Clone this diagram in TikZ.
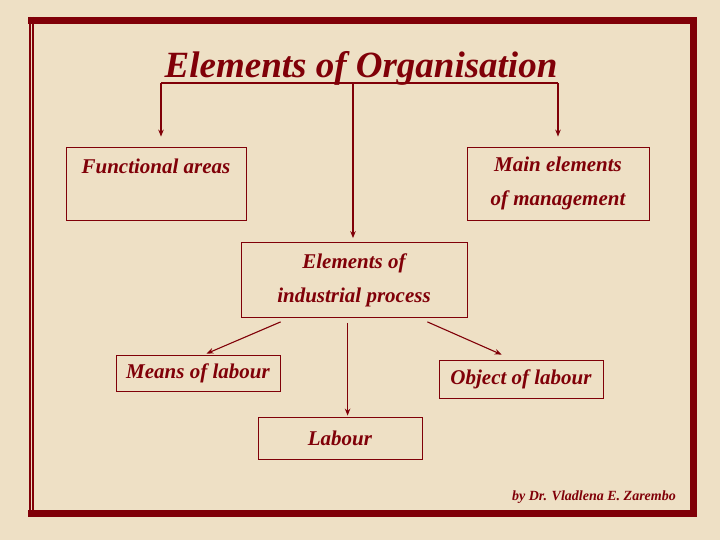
\documentclass[tikz,border=0pt]{standalone}
\usepackage{fontspec}
\setmainfont{Liberation Serif}
\usepackage{tikz}
\usetikzlibrary{arrows.meta}
\definecolor{parch}{RGB}{238,224,197}
\definecolor{wine}{RGB}{128,0,8}
\tikzset{
  elem_txt/.style = {align=center, inner sep=0pt, text centered, wine,
    font=\bfseries\itshape},
  elem_box/.style = {elem_txt, rectangle, draw=wine, line width=0.8pt,
    font=\fontsize{21}{34}\selectfont\bfseries\itshape},% box with label
  title_txt/.style = {elem_txt, font=\fontsize{37}{40}\selectfont\bfseries\itshape},
  foot_txt/.style = {elem_txt, font=\fontsize{14}{15}\selectfont\bfseries\itshape},
  link/.style = {->, draw=wine, line width=1.1pt},% connector
  frame_thick/.style = {draw=wine, line width=7pt, line join=miter},
  frame_thin/.style = {draw=wine, line width=2pt}
}

\begin{document}
\begin{tikzpicture} [x=1pt, y=-1pt, >={Stealth[length=7pt,width=5.5pt]}]
		\fill [parch] (0,0) rectangle (720,540);
		% frame
		\draw [frame_thick] (28,20.5) -- (693.5,20.5) -- (693.5,513) -- (28,513);
		\draw [frame_thin] (29.5,17) -- (29.5,516.5);
		\draw [frame_thin] (33,17) -- (33,516.5);
		% boxes
		\node [title_txt] (title) at (361,68) {Elements of Organisation};
		\node [elem_box, minimum width=180pt, minimum height=73pt] (func) at (156,183.5)
			{Functional areas\\ \mbox{}};
		\node [elem_box, minimum width=182pt, minimum height=73pt] (mgmt) at (558,183.5)
			{Main elements\\of management};
		\node [elem_box, minimum width=226pt, minimum height=75pt] (proc) at (354,280)
			{Elements of\\industrial process};
		\node [elem_box, minimum width=164pt, minimum height=36pt] (means) at (198,373)
			{Means of labour};
		\node [elem_box, minimum width=164pt, minimum height=38pt] (object) at (521,379)
			{Object of labour};
		\node [elem_box, minimum width=164pt, minimum height=42pt] (labour) at (340,438)
			{Labour};
		\node [foot_txt, anchor=base east] (author) at (676,500)
			{by Dr. Vladlena E. Zarembo};
		% branching under the title
		\coordinate (br_l) at (161,83);
		\coordinate (br_m) at (353,83);
		\coordinate (br_r) at (558,83);
		\draw [draw=wine, line width=1.1pt] (br_l) -- (br_r);
		\draw [link] (br_l) -- ([yshift=10pt]br_l |- func.north);
		\draw [link] (br_r) -- ([yshift=10pt]br_r |- mgmt.north);
		\draw [link] (br_m) -- ([yshift=4pt]br_m |- proc.north);
		% elements of industrial process
		\draw [link] ([shift={(40,4)}]proc.south west) -- ([shift={(91,-1)}]means.north west);
		\draw [link] ([shift={(107,5)}]proc.south west) -- ([shift={(90,-1)}]labour.north west);
		\draw [link] ([shift={(-40,4)}]proc.south east) -- ([shift={(63,-5)}]object.north west);
	\end{tikzpicture}
\end{document}
